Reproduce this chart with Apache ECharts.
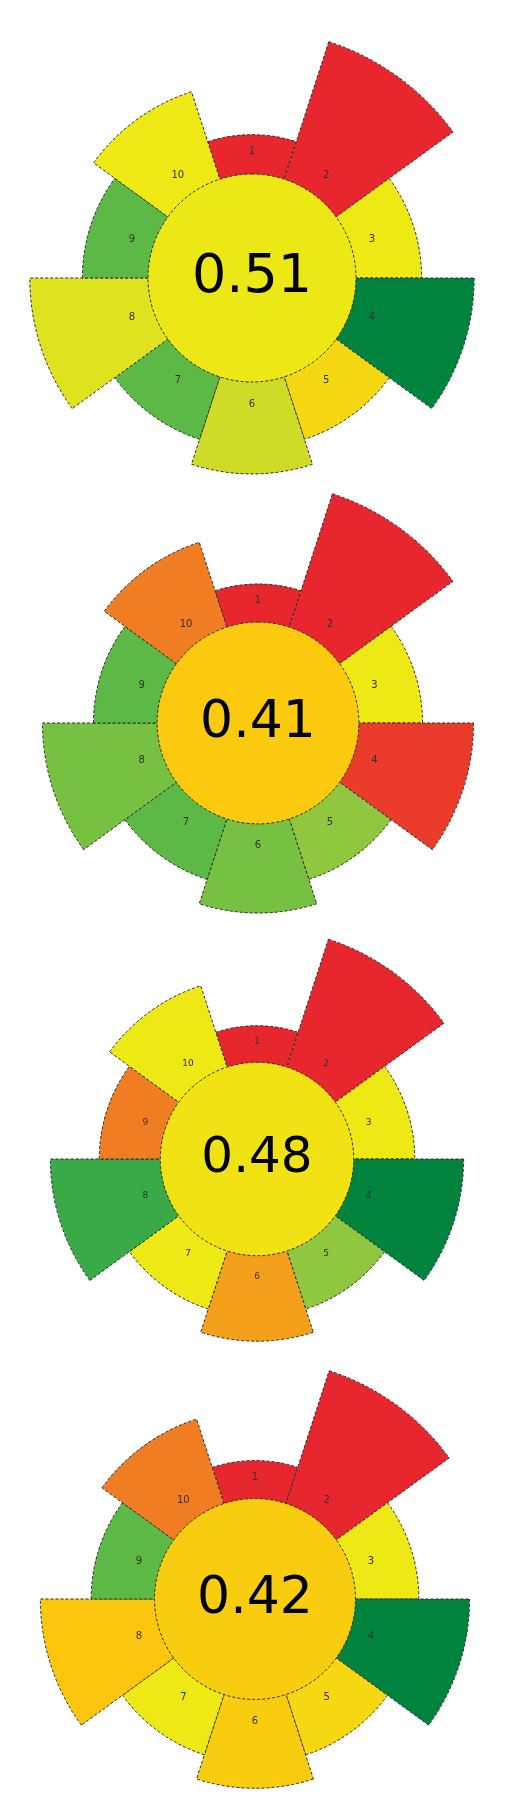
<!DOCTYPE html>
<html>
<head>
<meta charset="utf-8">
<title>AGREEprep pictograms</title>
<script src="https://cdn.jsdelivr.net/npm/echarts@6/dist/echarts.min.js"></script>
<style>
  html,body{margin:0;padding:0;background:#fff;}
  #chart{width:513px;height:1801px;}
</style>
</head>
<body>
<div id="chart"></div>
<script>
// criteria and their weights (weight = length of the segment)
var criteria = ['1', '2', '3', '4', '5', '6', '7', '8', '9', '10'];
var weights = [1, 5, 2, 4, 2, 3, 2, 4, 2, 3];

// criterion scores (0 = red ... 1 = dark green), one array per pictogram
var scoresA = [0, 0, 0.5, 1, 0.45, 0.6, 0.8, 0.55, 0.8, 0.5];
var scoresB = [0, 0, 0.5, 0.1, 0.7, 0.75, 0.8, 0.75, 0.8, 0.2];
var scoresC = [0, 0, 0.5, 1, 0.7, 0.3, 0.5, 0.9, 0.2, 0.5];
var scoresD = [0, 0, 0.5, 1, 0.45, 0.42, 0.5, 0.4, 0.8, 0.2];
var totals = [0.51, 0.41, 0.48, 0.42];

var allScores = [scoresA, scoresB, scoresC, scoresD];

// where each pictogram sits and how big it is
var layouts = [
  {cx: 252, cy: 278, s: 1.0},
  {cx: 258, cy: 723, s: 0.97},
  {cx: 257, cy: 1159, s: 0.93},
  {cx: 255, cy: 1599, s: 0.966}
];

// score -> colour ramp, 0 .. 1 in steps of 0.1
var ramp = ['#e8262d', '#eb3b2b', '#f07d22', '#f5a01a', '#fcc60e', '#eee914',
            '#cfdc27', '#8fc73e', '#5cb946', '#3aaa48', '#00843d'];
function scoreColor(v) {
  return echarts.color.lerp(v, ramp);
}

var RAD_MIN = -4.45;   // radius axis starts below 0 so segments grow from the middle
var LABEL_R = 0.35;    // where the criterion numbers sit, in radius axis units

function makeRender(scores, s) {
  return function (params, api) {
    var i = api.value(1);
    var cs = params.coordSys;
    var tip = api.coord([api.value(0), i]);
    var mid = Math.atan2(tip[1] - cs.cy, tip[0] - cs.cx);
    var half = Math.PI / criteria.length;
    var lab = api.coord([LABEL_R, i]);
    return {
      type: 'group',
      children: [{
        type: 'sector',
        shape: {cx: cs.cx, cy: cs.cy, r0: 0, r: tip[2], startAngle: mid - half, endAngle: mid + half},
        style: {fill: scoreColor(scores[i]), stroke: '#2b2b2b', lineWidth: 1, lineDash: [3, 2]}
      }, {
        type: 'text',
        x: lab[0],
        y: lab[1],
        style: {
          text: criteria[i],
          fill: '#333',
          fontSize: Math.round(10 * s),
          fontFamily: 'DejaVu Sans',
          align: 'center',
          verticalAlign: 'middle'
        }
      }]
    };
  };
}

var chart = echarts.init(document.getElementById('chart'));

var polar = [], angleAxis = [], radiusAxis = [], series = [];
layouts.forEach(function (l, k) {
  polar.push({center: [l.cx, l.cy], radius: [0, 248.5 * l.s]});
  angleAxis.push({polarIndex: k, type: 'category', data: criteria, startAngle: 108, show: false});
  radiusAxis.push({polarIndex: k, type: 'value', min: RAD_MIN, max: 5, show: false});
  series.push({
    type: 'custom',
    coordinateSystem: 'polar',
    polarIndex: k,
    encode: {radius: 0, angle: 1},
    data: weights.map(function (w, i) { return [w, i]; }),
    renderItem: makeRender(allScores[k], l.s),
    silent: true,
    z: 2
  });
  series.push({
    type: 'pie',
    center: [l.cx, l.cy],
    radius: [0, 104 * l.s],
    silent: true,
    z: 5,
    data: [{value: totals[k]}],
    itemStyle: {
      color: scoreColor(totals[k]),
      borderColor: '#2b2b2b',
      borderWidth: 1,
      borderType: [3, 2]
    },
    label: {
      show: true,
      position: 'center',
      formatter: totals[k].toFixed(2),
      fontSize: Math.round(54 * l.s),
      fontFamily: 'DejaVu Sans',
      color: '#000',
      padding: [0, 0, Math.round(12 * l.s), 0]
    },
    labelLine: {show: false}
  });
});

chart.setOption({
  animation: false,
  polar: polar,
  angleAxis: angleAxis,
  radiusAxis: radiusAxis,
  series: series
});
</script>
</body>
</html>
